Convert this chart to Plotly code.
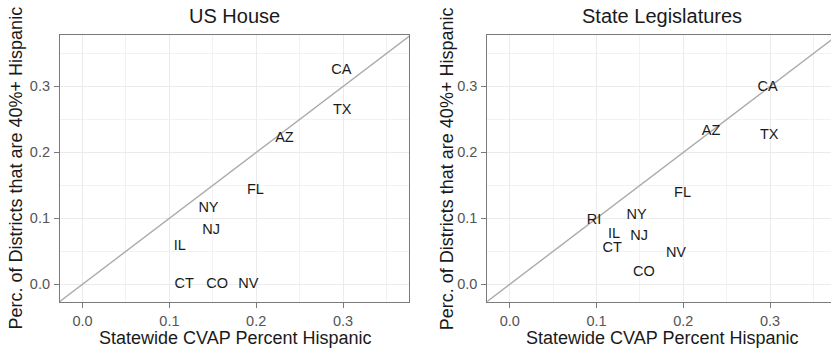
import plotly.graph_objects as go

# ---- data ----
house_states = ["CA", "TX", "AZ", "FL", "NY", "NJ", "IL", "CT", "CO", "NV"]
house_x = [0.298, 0.299, 0.2325, 0.199, 0.145, 0.148, 0.112, 0.117, 0.155, 0.191]
house_y = [0.325, 0.263, 0.221, 0.142, 0.115, 0.082, 0.057, 0.0, 0.0, 0.0]

leg_states = ["CA", "TX", "AZ", "FL", "NY", "RI", "IL", "NJ", "CT", "NV", "CO"]
leg_x = [0.297, 0.299, 0.232, 0.199, 0.146, 0.097, 0.120, 0.149, 0.118, 0.1915, 0.1546]
leg_y = [0.299, 0.226, 0.2325, 0.138, 0.105, 0.097, 0.0755, 0.073, 0.054, 0.0466, 0.018]

diag = [-0.1, 0.5]  # y = x reference line endpoints
tick_vals = [0.0, 0.1, 0.2, 0.3]
tick_text = ["0.0", "0.1", "0.2", "0.3"]

titles = ["US House", "State Legislatures"]
xlab = "Statewide CVAP Percent Hispanic"
ylab = "Perc. of Districts that are 40%+ Hispanic"

FONT = "Liberation Sans, Arial, Helvetica, sans-serif"
W, H = 831, 351

fig = go.Figure()

for i, (xs, ys, labs) in enumerate([(house_x, house_y, house_states), (leg_x, leg_y, leg_states)]):
    xa = "x" if i == 0 else "x2"
    ya = "y" if i == 0 else "y2"
    fig.add_trace(go.Scatter(x=diag, y=diag, mode="lines", line=dict(color="#ababab", width=1.4),
                             xaxis=xa, yaxis=ya, hoverinfo="skip", showlegend=False))
    fig.add_trace(go.Scatter(x=xs, y=ys, mode="text", text=labs, textposition="middle center",
                             textfont=dict(family=FONT, size=14.5, color="#1a1a1a"),
                             xaxis=xa, yaxis=ya, showlegend=False, cliponaxis=False))

left_dom = [60 / W, 409 / W]
right_dom = [487.3 / W, 1.0]
y_dom = [(H - 302) / H, (H - 35) / H]

def xaxis_cfg(dom, rng, anchor):
    return dict(domain=dom, range=rng, anchor=anchor, tickvals=tick_vals, ticktext=tick_text,
                showgrid=True, gridcolor="#ebebeb", gridwidth=1,
                minor=dict(dtick=0.05, tick0=0, showgrid=True, gridcolor="#f2f2f2", gridwidth=0.6, ticks=""),
                zeroline=False, showline=True, linecolor="#7a7a7a", linewidth=1.2, mirror=True,
                ticks="outside", ticklen=5, tickcolor="#7a7a7a", tickwidth=1.2, ticklabelstandoff=0,
                tickfont=dict(family=FONT, size=14.5, color="#555555"))

def yaxis_cfg(rng, anchor, mirror):
    return dict(domain=y_dom, range=rng, anchor=anchor, tickvals=tick_vals, ticktext=tick_text,
                showgrid=True, gridcolor="#ebebeb", gridwidth=1,
                minor=dict(dtick=0.05, tick0=0, showgrid=True, gridcolor="#f2f2f2", gridwidth=0.6, ticks=""),
                zeroline=False, showline=True, linecolor="#7a7a7a", linewidth=1.2, mirror=mirror,
                ticks="outside", ticklen=5, tickcolor="#7a7a7a", tickwidth=1.2, ticklabelstandoff=1,
                tickfont=dict(family=FONT, size=14.5, color="#555555"))

yr = [-0.027, 0.378]
fig.update_layout(
    width=W, height=H, margin=dict(l=0, r=0, t=0, b=0),
    paper_bgcolor="white", plot_bgcolor="white", showlegend=False,
    xaxis=xaxis_cfg(left_dom, [-0.026, 0.376], "y"),
    yaxis=yaxis_cfg(yr, "x", True),
    xaxis2=xaxis_cfg(right_dom, [-0.026, 0.3702], "y2"),
    yaxis2=yaxis_cfg(yr, "x2", False),
)

anns = []
centers = [(left_dom[0] + left_dom[1]) / 2, (487.3 + 836) / 2 / W]
ytitle_x = [15 / W, 446.7 / W]
for i in range(2):
    anns.append(dict(text=titles[i], x=centers[i], y=(H - 16) / H, xref="paper", yref="paper",
                     showarrow=False, xanchor="center", yanchor="middle",
                     font=dict(family=FONT, size=20, color="#1a1a1a")))
    anns.append(dict(text=xlab, x=centers[i], y=(H - 338) / H, xref="paper", yref="paper",
                     showarrow=False, xanchor="center", yanchor="middle",
                     font=dict(family=FONT, size=18, color="#1a1a1a")))
    anns.append(dict(text=ylab, x=ytitle_x[i], y=(H - 168.5) / H, xref="paper", yref="paper",
                     showarrow=False, xanchor="center", yanchor="middle", textangle=-90,
                     font=dict(family=FONT, size=18, color="#1a1a1a")))
fig.update_layout(annotations=anns)

fig.write_html("out.html")
